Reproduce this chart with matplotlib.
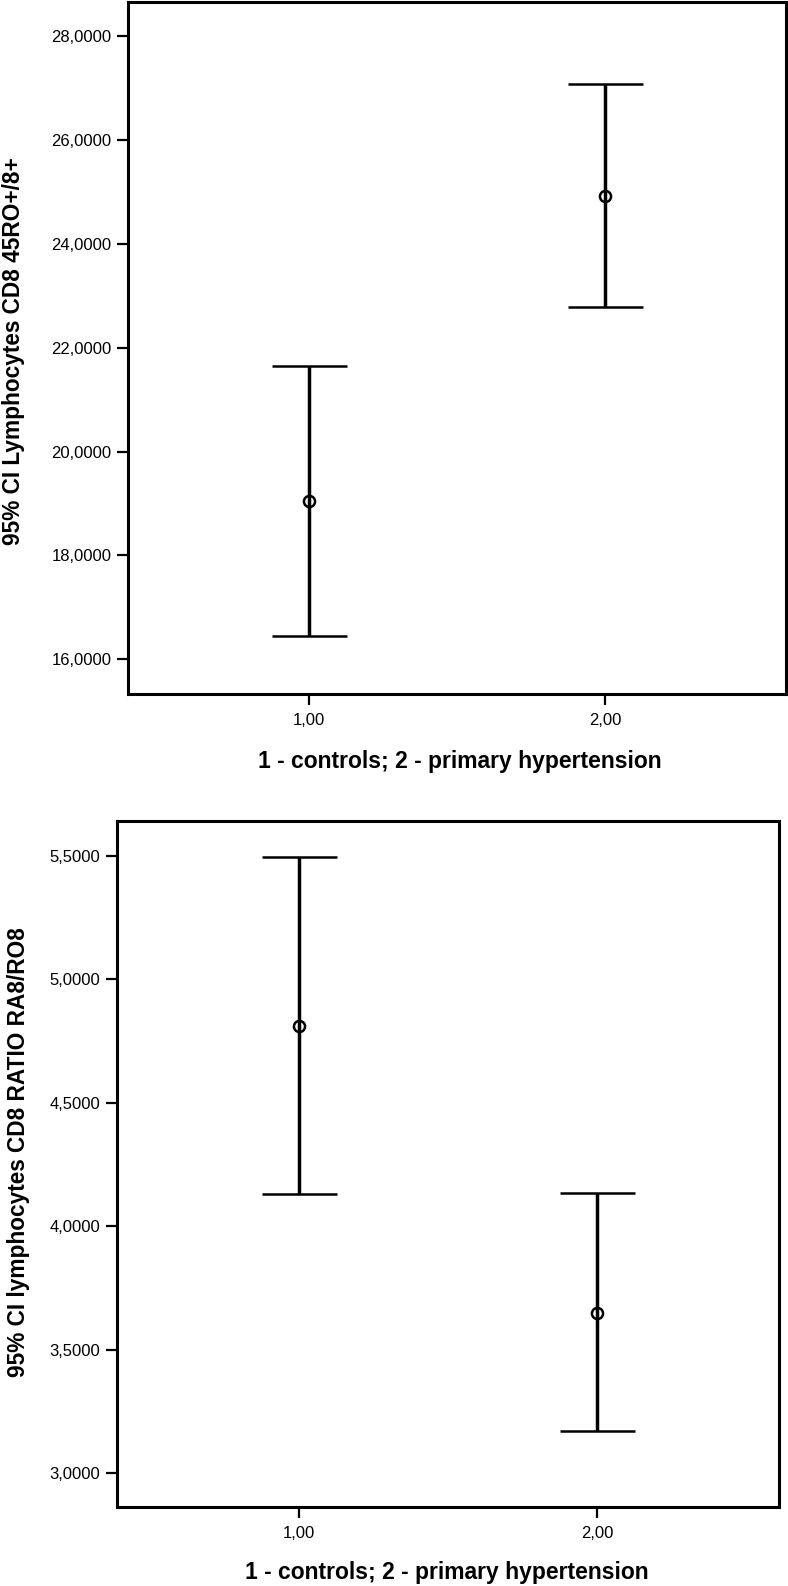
import matplotlib.pyplot as plt
from matplotlib.ticker import FuncFormatter

plt.rcParams['font.family'] = ['Liberation Sans', 'DejaVu Sans']

# group codes on the x axis
groups = [1, 2]
group_labels = ['1,00', '2,00']

# top panel: CD8 45RO+/8+
ro_mean = [19.05, 24.93]
ro_lower = [16.45, 22.78]
ro_upper = [21.64, 27.09]
ro_ticks = [16, 18, 20, 22, 24, 26, 28]

# bottom panel: CD8 ratio RA8/RO8
ratio_mean = [4.81, 3.65]
ratio_lower = [4.13, 3.17]
ratio_upper = [5.495, 4.136]
ratio_ticks = [3.0, 3.5, 4.0, 4.5, 5.0, 5.5]

xlabel = '1 - controls; 2 - primary hypertension'
ylabel_top = '95% CI Lymphocytes CD8 45RO+/8+'
ylabel_bottom = '95% CI lymphocytes CD8 RATIO RA8/RO8'


def comma(v, pos):
    return f'{v:.4f}'.replace('.', ',')


def ci_panel(ax, mean, lower, upper, ticks, ylim, ylabel, ylab_xy, xlab_xy):
    yerr = [[m - lo for m, lo in zip(mean, lower)],
            [hi - m for m, hi in zip(mean, upper)]]
    ax.errorbar(groups, mean, yerr=yerr, fmt='o', color='black', mfc='none',
                ms=8, mew=1.8, elinewidth=2.5, capsize=27, capthick=2.5)
    ax.set_xlim(0.389, 2.611)
    ax.set_ylim(*ylim)
    ax.set_xticks(groups)
    ax.set_xticklabels(group_labels)
    ax.set_yticks(ticks)
    ax.yaxis.set_major_formatter(FuncFormatter(comma))
    ax.tick_params(direction='out', length=8, width=1.6, labelsize=12, pad=4)
    ax.tick_params(axis='x', pad=6)
    for s in ax.spines.values():
        s.set_linewidth(2.2)
    ax.set_xlabel(xlabel, fontsize=16.5, fontweight='bold', va='center')
    ax.set_ylabel(ylabel, fontsize=16.3, fontweight='bold', va='center')
    ax.xaxis.set_label_coords(*xlab_xy)
    ax.yaxis.set_label_coords(*ylab_xy)


fig = plt.figure(figsize=(7.88, 15.86), dpi=100)
ax1 = fig.add_axes([0.1624, 0.5624, 0.835, 0.4366])
ax2 = fig.add_axes([0.1481, 0.0498, 0.8405, 0.4325])

ci_panel(ax1, ro_mean, ro_lower, ro_upper, ro_ticks, (15.33, 28.67),
         ylabel_top, (-0.174, 0.495), (0.504, -0.097))
ci_panel(ax2, ratio_mean, ratio_lower, ratio_upper, ratio_ticks, (2.862, 5.642),
         ylabel_bottom, (-0.149, 0.517), (0.499, -0.095))

fig.savefig('out.png', dpi=100)
